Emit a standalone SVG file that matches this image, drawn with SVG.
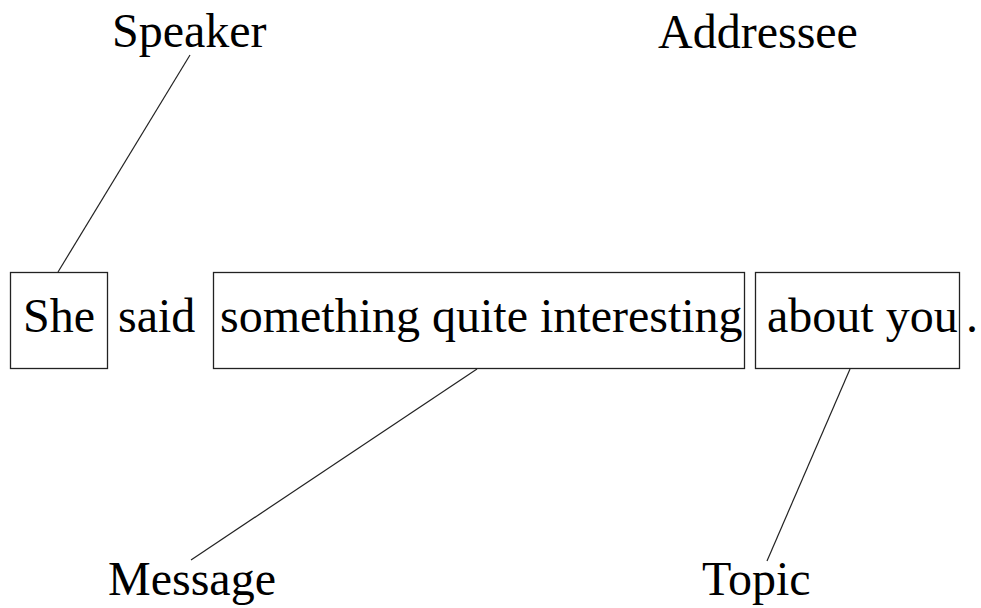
<svg xmlns="http://www.w3.org/2000/svg" width="981" height="608" viewBox="0 0 981 608">
  <style>
    text { font-size: 48px; fill: #000; }
    .box { fill: none; stroke: #222; stroke-width: 1.3; }
    .link { stroke: #222; stroke-width: 1.2; fill: none; }
  </style>
  <rect width="981" height="608" fill="#fff"/>

  <g font-family="'Liberation Serif', 'Times New Roman', Times, serif">
    <!-- role labels -->
    <g id="speaker"><text x="112" y="47">Speaker</text></g>
    <g id="addressee"><text x="658" y="48">Addressee</text></g>
    <g id="message"><text x="108" y="595">Message</text></g>
    <g id="topic"><text x="702" y="595">Topic</text></g>

    <!-- sentence constituents -->
    <g id="she">
      <rect class="box" x="10.5" y="272.5" width="97" height="96"/>
      <text x="23" y="332">She</text>
    </g>
    <g id="said"><text x="118" y="332">said</text></g>
    <g id="something">
      <rect class="box" x="213.5" y="272.5" width="531" height="96"/>
      <text x="220" y="332">something quite interesting</text>
    </g>
    <g id="about-you">
      <rect class="box" x="755.5" y="272.5" width="204" height="96"/>
      <text x="767" y="332">about you</text>
    </g>
    <g id="period"><text x="966" y="332">.</text></g>
  </g>

  <!-- connectors -->
  <g id="connectors">
    <line class="link" x1="190" y1="55" x2="58" y2="272"/>
    <line class="link" x1="477" y1="369" x2="191" y2="560"/>
    <line class="link" x1="850" y1="369" x2="767" y2="561"/>
  </g>
</svg>
